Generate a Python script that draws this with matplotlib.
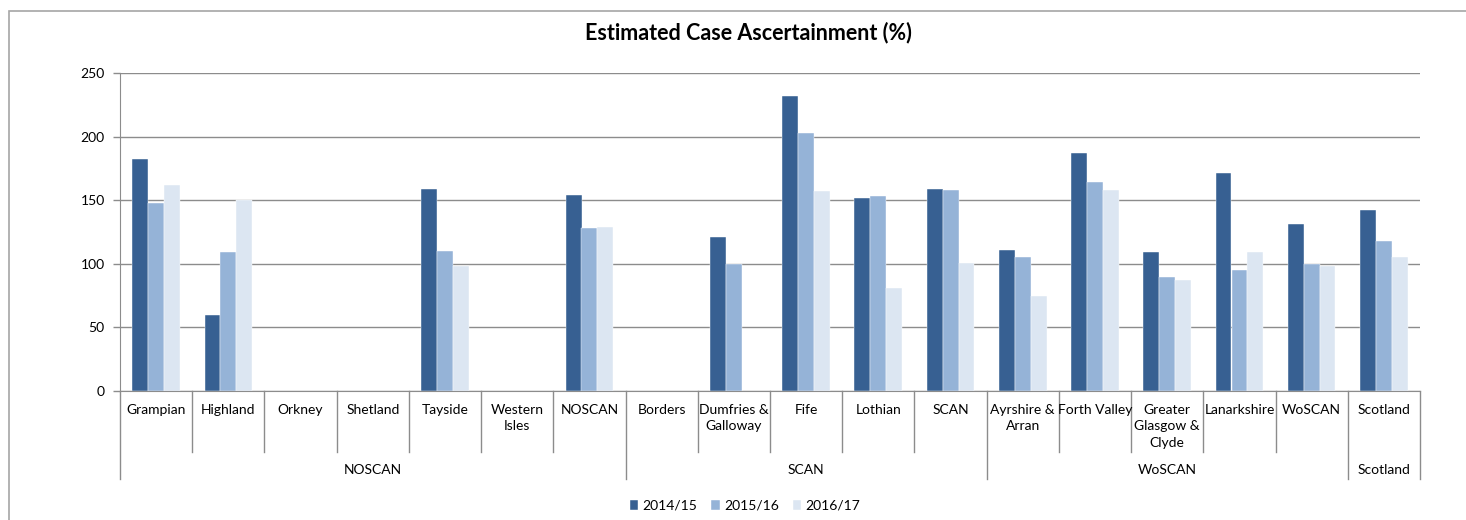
import numpy as np
import matplotlib.pyplot as plt
from matplotlib.patches import Rectangle
import matplotlib.transforms as mtransforms

plt.rcParams['font.family'] = ['Lato', 'DejaVu Sans']

# data
categories = ["Grampian", "Highland", "Orkney", "Shetland", "Tayside", "Western\nIsles", "NOSCAN",
              "Borders", "Dumfries &\nGalloway", "Fife", "Lothian", "SCAN",
              "Ayrshire &\nArran", "Forth Valley", "Greater\nGlasgow &\nClyde", "Lanarkshire", "WoSCAN",
              "Scotland"]
groups = ["NOSCAN", "SCAN", "WoSCAN", "Scotland"]
group_sizes = [7, 5, 5, 1]
series_names = ["2014/15", "2015/16", "2016/17"]
nan = np.nan
y2014 = [182, 60, nan, nan, 159, nan, 154, nan, 121, 232, 152, 159, 111, 187, 109, 171, 131, 142]
y2015 = [148, 109, nan, nan, 110, nan, 128, nan, 100, 203, 153, 158, 105, 164, 90, 95, 100, 118]
y2016 = [162, 150, nan, nan, 98, nan, 129, nan, nan, 157, 81, 101, 75, 158, 87, 109, 98, 105]
colours = ["#376092", "#95B3D7", "#DCE6F2"]

fig = plt.figure(figsize=(14.66, 5.2), dpi=100)
ax = fig.add_axes([120/1466, 1-391/520, (1420-120)/1466, (391-73)/520])

x = np.arange(len(categories))
w = 0.22
for i, (vals, c, name) in enumerate(zip([y2014, y2015, y2016], colours, series_names)):
    ax.bar(x + (i-1)*w, vals, w, color=c, label=name, edgecolor='white', linewidth=0.3)

ax.set_xlim(-0.5, len(categories)-0.5)
ax.set_ylim(0, 250)
ax.set_yticks(np.arange(0, 251, 50))
ax.yaxis.grid(True, color='#8c8c8c', linewidth=1)
ax.set_axisbelow(True)
for s in ['top', 'right']:
    ax.spines[s].set_visible(False)
ax.spines['left'].set_color('#8c8c8c')
ax.spines['bottom'].set_color('#8c8c8c')
ax.tick_params(axis='y', length=5, width=1, color='#8c8c8c', pad=6, labelsize=10)
ax.set_xticks([])

# category labels and separators
trans = mtransforms.blended_transform_factory(ax.transData, ax.transAxes)
cell_bottom = -61/318
group_bottom = -88/318
for i, lab in enumerate(categories):
    ax.text(i, -0.04, lab, transform=trans, ha='center', va='top', fontsize=10,
            linespacing=1.45)

bounds = np.cumsum([0] + group_sizes) - 0.5
for i in range(len(categories)+1):
    xb = i - 0.5
    yb = group_bottom if xb in bounds else cell_bottom
    ax.plot([xb, xb], [0, yb], transform=trans, color='#8c8c8c', linewidth=1, clip_on=False)

for g, a, b in zip(groups, bounds[:-1], bounds[1:]):
    ax.text((a+b)/2, -79/318, g, transform=trans, ha='center', va='center', fontsize=10)

fig.text(748/1466, 1-33/520, "Estimated Case Ascertainment (%)", ha='center', va='center',
         fontsize=15.5, fontweight='bold')

fig.legend(loc='center', bbox_to_anchor=(745/1466, 1-506/520), ncol=3, frameon=False,
           fontsize=10, handlelength=0.6, handleheight=0.7, handletextpad=0.3,
           columnspacing=1.0)

fig.patches.append(Rectangle((9/1466, -0.1), 1.2, 1-11/520+0.1, transform=fig.transFigure,
                             fill=False, edgecolor='#a6a6a6', linewidth=1.2))

fig.savefig("out.png", dpi=100)
